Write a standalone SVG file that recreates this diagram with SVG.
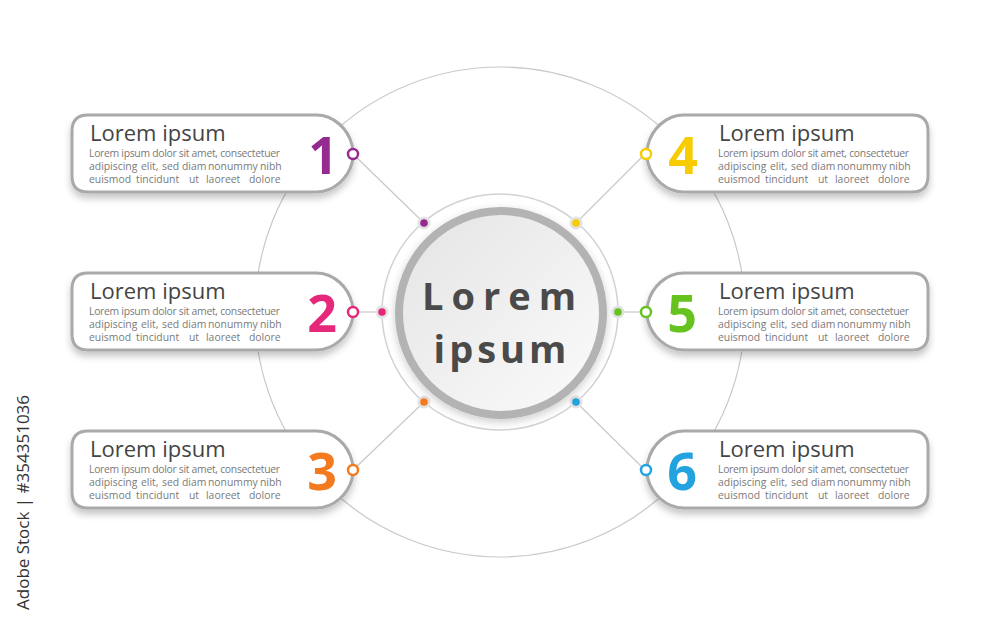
<svg xmlns="http://www.w3.org/2000/svg" width="1000" height="625" viewBox="0 0 1000 625">
<defs>
<filter id="sh" x="-10%" y="-20%" width="120%" height="160%">
<feDropShadow dx="0" dy="5" stdDeviation="3.5" flood-color="#000" flood-opacity="0.22"/>
</filter>
<filter id="sh2" x="-20%" y="-20%" width="140%" height="140%">
<feDropShadow dx="0" dy="3" stdDeviation="4" flood-color="#000" flood-opacity="0.2"/>
</filter>
<linearGradient id="cg" x1="0" y1="0" x2="1" y2="1">
<stop offset="0" stop-color="#e4e4e4"/>
<stop offset="1" stop-color="#fbfbfb"/>
</linearGradient>
<path id="tagL" d="M16,0 H244 C262,0 276,14 280,30 Q282,39 280,48 C276,63 262,77 244,77 H16 Q0,77 0,61 V16 Q0,0 16,0 Z"/>
<path id="tagR" d="M276,0 H48 C30,0 16,14 12,30 Q10,39 12,48 C16,63 30,77 48,77 H276 Q292,77 292,61 V16 Q292,0 276,0 Z"/>
</defs>
<style>
.box{fill:#fff;stroke:#a9a9a9;stroke-width:3;filter:url(#sh)}
.h{font-family:"Open Sans","Noto Sans",sans-serif;font-size:22px;fill:#444}
.b{font-family:"Open Sans","Noto Sans",sans-serif;font-size:10.4px;fill:#7a7a7a}
.n{font-family:"Open Sans","Noto Sans",sans-serif;font-size:52px;font-weight:bold;text-anchor:middle}
.con{stroke:#c9c9c9;stroke-width:1.2;fill:none}
.halo{fill:#e2e2e2}
.ring{fill:#fff;stroke-width:2.5}
.ct{font-family:"Open Sans","Noto Sans",sans-serif;font-size:38px;font-weight:bold;fill:#4a4a4a;text-anchor:middle}
</style>
<rect width="1000" height="625" fill="#fff"/>
<g id="connectors">
<circle cx="500" cy="312" r="245" class="con" stroke="#d9d9d9"/>
<circle cx="500" cy="312" r="118" fill="none" stroke="#d2d2d2" stroke-width="1.5"/>
<line x1="424" y1="223" x2="353" y2="154" class="con"/>
<line x1="382" y1="312" x2="353" y2="312" class="con"/>
<line x1="424" y1="402" x2="353" y2="470" class="con"/>
<line x1="576" y1="223" x2="645" y2="154" class="con"/>
<line x1="618" y1="312" x2="645" y2="312" class="con"/>
<line x1="576" y1="402" x2="645" y2="470" class="con"/>
<circle cx="424" cy="223" r="6.5" class="halo"/><circle cx="424" cy="223" r="3.8" fill="#952b8f"/>
<circle cx="382" cy="312" r="6.5" class="halo"/><circle cx="382" cy="312" r="3.8" fill="#e6287a"/>
<circle cx="424" cy="402" r="6.5" class="halo"/><circle cx="424" cy="402" r="3.8" fill="#f47a1f"/>
<circle cx="576" cy="223" r="6.5" class="halo"/><circle cx="576" cy="223" r="3.8" fill="#f7cc00"/>
<circle cx="618" cy="312" r="6.5" class="halo"/><circle cx="618" cy="312" r="3.8" fill="#66c31f"/>
<circle cx="576" cy="402" r="6.5" class="halo"/><circle cx="576" cy="402" r="3.8" fill="#22a3e0"/>
</g>
<g id="center">
<circle cx="501" cy="313" r="102" fill="url(#cg)" stroke="#b3b3b3" stroke-width="8" filter="url(#sh2)"/>
<text x="503" y="310" class="ct" letter-spacing="8">Lorem</text>
<text x="502" y="363" class="ct" letter-spacing="4">ipsum</text>
</g>
<g id="node1" transform="translate(72,115)">
<use href="#tagL" class="box"/>
<text x="18" y="26" class="h">Lorem ipsum</text>
<text x="17" y="42" class="b" textLength="191" lengthAdjust="spacing">Lorem ipsum dolor sit amet, consectetuer</text>
<text y="55" class="b"><tspan x="17">adipiscing</tspan><tspan x="69">elit,</tspan><tspan x="90">sed</tspan><tspan x="110">diam</tspan><tspan x="136">nonummy</tspan><tspan x="188">nibh</tspan></text>
<text y="68" class="b"><tspan x="17">euismod</tspan><tspan x="64">tincidunt</tspan><tspan x="117">ut</tspan><tspan x="134">laoreet</tspan><tspan x="177">dolore</tspan></text>
<text x="251" y="59" class="n" fill="#952b8f">1</text>
<circle cx="281" cy="39" r="5" class="ring" stroke="#952b8f"/>
</g>
<g id="node2" transform="translate(72,273)">
<use href="#tagL" class="box"/>
<text x="18" y="26" class="h">Lorem ipsum</text>
<text x="17" y="42" class="b" textLength="191" lengthAdjust="spacing">Lorem ipsum dolor sit amet, consectetuer</text>
<text y="55" class="b"><tspan x="17">adipiscing</tspan><tspan x="69">elit,</tspan><tspan x="90">sed</tspan><tspan x="110">diam</tspan><tspan x="136">nonummy</tspan><tspan x="188">nibh</tspan></text>
<text y="68" class="b"><tspan x="17">euismod</tspan><tspan x="64">tincidunt</tspan><tspan x="117">ut</tspan><tspan x="134">laoreet</tspan><tspan x="177">dolore</tspan></text>
<text x="250" y="59" class="n" fill="#e6287a">2</text>
<circle cx="281" cy="39" r="5" class="ring" stroke="#e6287a"/>
</g>
<g id="node3" transform="translate(72,431)">
<use href="#tagL" class="box"/>
<text x="18" y="26" class="h">Lorem ipsum</text>
<text x="17" y="42" class="b" textLength="191" lengthAdjust="spacing">Lorem ipsum dolor sit amet, consectetuer</text>
<text y="55" class="b"><tspan x="17">adipiscing</tspan><tspan x="69">elit,</tspan><tspan x="90">sed</tspan><tspan x="110">diam</tspan><tspan x="136">nonummy</tspan><tspan x="188">nibh</tspan></text>
<text y="68" class="b"><tspan x="17">euismod</tspan><tspan x="64">tincidunt</tspan><tspan x="117">ut</tspan><tspan x="134">laoreet</tspan><tspan x="177">dolore</tspan></text>
<text x="250" y="59" class="n" fill="#f47a1f">3</text>
<circle cx="281" cy="39" r="5" class="ring" stroke="#f47a1f"/>
</g>
<g id="node4" transform="translate(636,115)">
<use href="#tagR" class="box"/>
<text x="83" y="26" class="h">Lorem ipsum</text>
<text x="82" y="42" class="b" textLength="191" lengthAdjust="spacing">Lorem ipsum dolor sit amet, consectetuer</text>
<text y="55" class="b"><tspan x="82">adipiscing</tspan><tspan x="134">elit,</tspan><tspan x="155">sed</tspan><tspan x="175">diam</tspan><tspan x="201">nonummy</tspan><tspan x="253">nibh</tspan></text>
<text y="68" class="b"><tspan x="82">euismod</tspan><tspan x="129">tincidunt</tspan><tspan x="182">ut</tspan><tspan x="199">laoreet</tspan><tspan x="242">dolore</tspan></text>
<text x="47" y="59" class="n" fill="#f7cc00">4</text>
<circle cx="10" cy="39" r="5" class="ring" stroke="#f7cc00"/>
</g>
<g id="node5" transform="translate(636,273)">
<use href="#tagR" class="box"/>
<text x="83" y="26" class="h">Lorem ipsum</text>
<text x="82" y="42" class="b" textLength="191" lengthAdjust="spacing">Lorem ipsum dolor sit amet, consectetuer</text>
<text y="55" class="b"><tspan x="82">adipiscing</tspan><tspan x="134">elit,</tspan><tspan x="155">sed</tspan><tspan x="175">diam</tspan><tspan x="201">nonummy</tspan><tspan x="253">nibh</tspan></text>
<text y="68" class="b"><tspan x="82">euismod</tspan><tspan x="129">tincidunt</tspan><tspan x="182">ut</tspan><tspan x="199">laoreet</tspan><tspan x="242">dolore</tspan></text>
<text x="46" y="59" class="n" fill="#66c31f">5</text>
<circle cx="10" cy="39" r="5" class="ring" stroke="#66c31f"/>
</g>
<g id="node6" transform="translate(636,431)">
<use href="#tagR" class="box"/>
<text x="83" y="26" class="h">Lorem ipsum</text>
<text x="82" y="42" class="b" textLength="191" lengthAdjust="spacing">Lorem ipsum dolor sit amet, consectetuer</text>
<text y="55" class="b"><tspan x="82">adipiscing</tspan><tspan x="134">elit,</tspan><tspan x="155">sed</tspan><tspan x="175">diam</tspan><tspan x="201">nonummy</tspan><tspan x="253">nibh</tspan></text>
<text y="68" class="b"><tspan x="82">euismod</tspan><tspan x="129">tincidunt</tspan><tspan x="182">ut</tspan><tspan x="199">laoreet</tspan><tspan x="242">dolore</tspan></text>
<text x="46" y="59" class="n" fill="#22a3e0">6</text>
<circle cx="10" cy="39" r="5" class="ring" stroke="#22a3e0"/>
</g>
<text transform="translate(29,610) rotate(-90)" font-family="Open Sans, Noto Sans, sans-serif" font-size="17" fill="#333">Adobe Stock | #354351036</text>
</svg>
